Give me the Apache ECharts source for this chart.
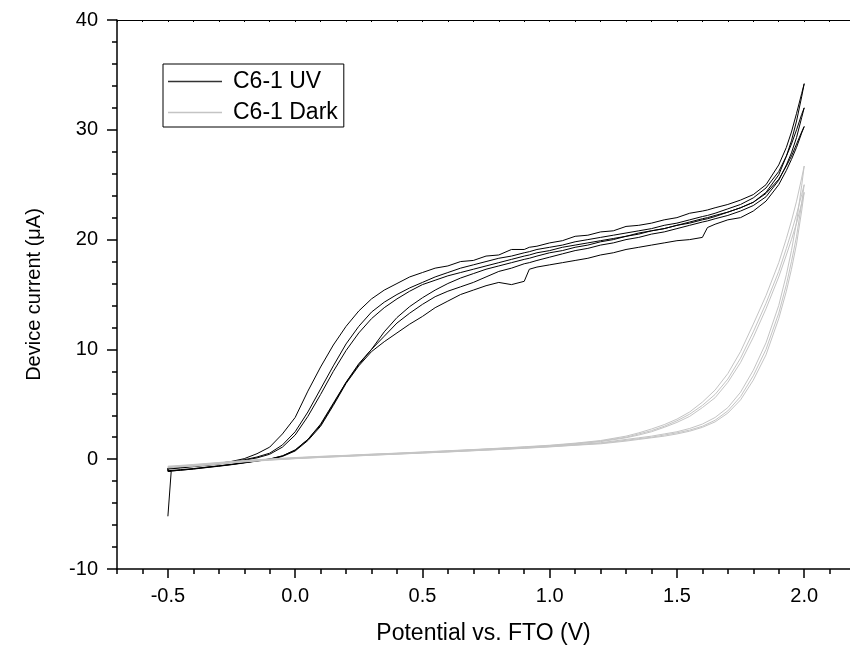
<!DOCTYPE html>
<html><head><meta charset="utf-8">
<script src="https://cdn.jsdelivr.net/npm/echarts@6/dist/echarts.min.js"></script>
<style>html,body{margin:0;padding:0;background:#fff}#c{width:850px;height:650px}</style>
</head><body><div id="c"></div>
<script>
// ---------- tick values ----------
const xMajorTicks = [-0.5, 0, 0.5, 1, 1.5, 2];
const xMinorTicks = [-0.7,-0.6,-0.5,-0.4,-0.3,-0.2,-0.1,0,0.1,0.2,0.3,0.4,0.5,0.6,0.7,0.8,0.9,1,1.1,1.2,1.3,1.4,1.5,1.6,1.7,1.8,1.9,2,2.1];

// ---------- UV series (3 cycles: forward D/E/F, reverse A/B/C) ----------
const uvStartV = [-0.5, -0.487];
const uvStartI = [-5.2, -1.1];
const vUV = [-0.5,-0.45,-0.4,-0.35,-0.3,-0.25,-0.2,-0.15,-0.1,-0.05,
             0,0.05,0.1,0.15,0.2,0.25,0.3,0.35,0.4,0.45,
             0.5,0.55,0.6,0.65,0.7,0.75,0.8,0.85,0.9,0.92,
             0.95,1.0,1.05,1.1,1.15,1.2,1.25,1.3,1.35,1.4,
             1.45,1.5,1.55,1.6,1.62,1.65,1.7,1.75,1.8,1.85,
             1.9,1.93,1.95,1.97,1.99,2.0];
const uvRevA = [-0.8,-0.72,-0.6,-0.5,-0.38,-0.2,0.05,0.5,1.1,2.3,
                3.8,6.2,8.4,10.4,12.1,13.5,14.6,15.4,16.0,16.6,
                17.0,17.4,17.6,18.0,18.1,18.5,18.6,19.1,19.1,19.3,
                19.4,19.7,19.9,20.3,20.4,20.7,20.8,21.2,21.3,21.5,
                21.8,22.0,22.4,22.6,22.7,22.9,23.2,23.6,24.1,25.0,
                26.8,28.4,29.8,31.5,33.3,34.2];
const uvRevB = [-0.85,-0.75,-0.63,-0.52,-0.4,-0.25,-0.05,0.2,0.55,1.3,
                2.5,4.3,6.4,8.5,10.5,12.1,13.4,14.3,15.0,15.6,
                16.1,16.6,17.0,17.4,17.7,18.0,18.3,18.5,18.8,18.9,
                19.1,19.3,19.5,19.8,20.0,20.2,20.4,20.6,20.8,21.0,
                21.3,21.5,21.8,22.1,22.2,22.4,22.8,23.2,23.8,24.7,
                26.2,27.6,28.7,30.0,31.4,32.0];
const uvRevC = [-0.9,-0.8,-0.68,-0.56,-0.44,-0.28,-0.1,0.12,0.45,1.1,
                2.2,3.9,5.9,8.0,9.9,11.5,12.8,13.8,14.6,15.3,
                15.9,16.3,16.7,17.0,17.3,17.6,17.9,18.2,18.5,18.6,
                18.8,19.0,19.3,19.5,19.7,19.9,20.1,20.3,20.6,20.8,
                21.0,21.3,21.5,21.8,21.9,22.1,22.5,22.9,23.4,24.2,
                25.5,26.7,27.6,28.7,29.8,30.3];
const uvFwdD = [-1.1,-1.0,-0.88,-0.75,-0.62,-0.48,-0.32,-0.15,0.0,0.3,
                0.8,1.8,3.1,5.0,7.0,8.6,10.0,11.6,12.9,13.9,
                14.7,15.4,16.0,16.5,16.9,17.3,17.6,17.9,18.2,18.3,
                18.5,18.8,19.0,19.3,19.5,19.8,20.0,20.3,20.5,20.8,
                21.0,21.3,21.6,21.9,22.0,22.2,22.5,22.9,23.4,24.3,
                25.9,27.6,29.0,30.8,33.0,34.2];
const uvFwdE = [-1.05,-0.95,-0.85,-0.72,-0.6,-0.46,-0.3,-0.14,0.02,0.3,
                0.85,1.8,3.2,5.1,7.0,8.7,10.0,11.2,12.4,13.3,
                14.1,14.8,15.3,15.7,16.1,16.6,17.1,17.4,17.8,17.9,
                18.1,18.4,18.7,19.0,19.2,19.5,19.7,20.0,20.2,20.5,
                20.7,21.0,21.3,21.6,21.7,21.9,22.2,22.6,23.1,23.9,
                25.4,26.8,27.9,29.3,31.1,32.0];
const uvFwdF = [-1.1,-1.0,-0.9,-0.77,-0.64,-0.5,-0.34,-0.17,-0.02,0.25,
                0.75,1.7,3.0,4.9,6.9,8.5,9.8,10.7,11.5,12.3,
                13.0,13.8,14.4,15.0,15.4,15.8,16.1,15.9,16.2,17.3,
                17.5,17.7,17.9,18.1,18.3,18.6,18.8,19.1,19.3,19.5,
                19.7,19.9,20.0,20.2,21.1,21.4,21.8,22.0,22.6,23.5,
                25.0,26.3,27.3,28.4,29.7,30.3];

// ---------- Dark series (3 cycles) ----------
const vDark = [-0.5,-0.4,-0.3,-0.2,-0.1,0,0.1,0.2,0.3,0.4,0.5,0.6,0.7,0.8,0.9,1.0,1.1,
               1.2,1.3,1.35,1.4,1.45,1.5,1.55,1.6,1.65,1.7,1.75,1.8,1.85,1.9,1.93,1.95,1.97,1.99,2.0];
const darkFwd1 = [-0.8,-0.6,-0.4,-0.2,-0.05,0.08,0.19,0.29,0.39,0.49,0.59,0.69,0.8,0.91,1.03,1.16,1.32,
                  1.5,1.8,1.95,2.1,2.3,2.5,2.8,3.2,3.8,4.7,6.1,8.1,10.6,14.0,16.8,19.0,21.6,24.9,26.7];
const darkRev1 = [-0.65,-0.48,-0.3,-0.12,0.02,0.15,0.26,0.35,0.46,0.55,0.66,0.77,0.88,1.0,1.13,1.27,1.46,
                  1.7,2.1,2.4,2.75,3.15,3.65,4.3,5.2,6.3,7.8,9.8,12.3,14.9,17.9,20.1,21.7,23.5,25.6,26.7];
const darkFwd2 = [-0.82,-0.62,-0.42,-0.22,-0.07,0.06,0.17,0.27,0.37,0.47,0.57,0.67,0.78,0.89,1.01,1.14,1.29,
                  1.45,1.72,1.87,2.0,2.2,2.4,2.65,3.0,3.55,4.4,5.7,7.6,10.0,13.3,15.9,18.0,20.3,23.3,25.0];
const darkRev2 = [-0.7,-0.52,-0.33,-0.15,0.0,0.12,0.24,0.33,0.44,0.54,0.64,0.75,0.86,0.98,1.1,1.24,1.42,
                  1.65,2.0,2.3,2.6,3.0,3.5,4.1,4.9,5.9,7.3,9.2,11.6,14.2,17.1,19.2,20.7,22.3,24.1,25.0];
const darkFwd3 = [-0.85,-0.64,-0.44,-0.24,-0.09,0.05,0.16,0.26,0.36,0.46,0.56,0.66,0.77,0.88,0.99,1.12,1.27,
                  1.4,1.65,1.8,1.95,2.1,2.3,2.55,2.9,3.4,4.2,5.4,7.2,9.5,12.8,15.3,17.3,19.6,22.6,24.3];
const darkRev3 = [-0.72,-0.55,-0.35,-0.17,-0.02,0.1,0.22,0.32,0.42,0.52,0.62,0.73,0.84,0.96,1.08,1.21,1.38,
                  1.6,1.95,2.2,2.5,2.9,3.35,3.9,4.7,5.6,7.0,8.8,11.1,13.7,16.6,18.6,20.0,21.5,23.3,24.3];

// ---------- build ----------
function pairs(v, a) { return v.map((x, i) => [x, a[i]]); }
function back(v, a) { return pairs(v, a).reverse(); }
const uvData = [].concat(
  pairs(uvStartV, uvStartI),
  pairs(vUV, uvFwdD), back(vUV, uvRevA),
  pairs(vUV, uvFwdE), back(vUV, uvRevB),
  pairs(vUV, uvFwdF), back(vUV, uvRevC));
const darkData = [].concat(
  pairs(vDark, darkFwd1), back(vDark, darkRev1),
  pairs(vDark, darkFwd2), back(vDark, darkRev2),
  pairs(vDark, darkFwd3), back(vDark, darkRev3));

const FONT = 'Arial, "Liberation Sans", sans-serif';
const chart = echarts.init(document.getElementById('c'), null, {renderer: 'canvas'});
chart.setOption({
  animation: false,
  backgroundColor: '#fff',
  grid: {left: 117, right: 0, top: 20, bottom: 80, containLabel: false},
  legend: {
    orient: 'vertical', left: 163, top: 64,
    icon: 'rect', itemWidth: 54, itemHeight: 1.5, itemGap: 6,
    padding: [5, 6, 2, 5],
    borderColor: '#000', borderWidth: 1, borderRadius: 0,
    textStyle: {fontSize: 23, lineHeight: 25, color: '#000', fontFamily: FONT, padding: [0, 0, 0, 6]},
    data: [
      {name: 'C6-1 UV', itemStyle: {color: '#333'}},
      {name: 'C6-1 Dark', itemStyle: {color: '#c4c4c4'}}
    ]
  },
  xAxis: [
    {
      type: 'value', min: -0.7, max: 2.18, position: 'bottom',
      name: 'Potential vs. FTO (V)', nameLocation: 'middle', nameGap: 53,
      nameTextStyle: {fontSize: 23, color: '#000', fontFamily: FONT},
      axisLine: {show: true, onZero: false, lineStyle: {color: '#000', width: 1.5}},
      axisTick: {show: true, length: 9, customValues: xMajorTicks, lineStyle: {color: '#000', width: 1.5}},
      axisLabel: {customValues: xMajorTicks, formatter: v => v.toFixed(1), fontSize: 20, color: '#000', fontFamily: FONT, margin: 17},
      splitLine: {show: false}
    },
    {
      type: 'value', min: -0.7, max: 2.18, position: 'bottom',
      axisLine: {show: false, onZero: false},
      axisTick: {show: true, length: 5, customValues: xMinorTicks, lineStyle: {color: '#000', width: 1.5}},
      axisLabel: {show: false}, splitLine: {show: false}
    },
    {
      type: 'value', min: -0.7, max: 2.18, position: 'top',
      axisLine: {show: true, onZero: false, lineStyle: {color: '#000', width: 1.2}},
      axisTick: {show: true, inside: true, length: 2, customValues: xMinorTicks, lineStyle: {color: '#000', width: 1}},
      axisLabel: {show: false}, splitLine: {show: false}
    }
  ],
  yAxis: {
    type: 'value', min: -10, max: 40, interval: 10,
    name: 'Device current (\u03bcA)', nameLocation: 'middle', nameGap: 73,
    nameTextStyle: {fontSize: 20, color: '#000', fontFamily: FONT},
    axisLine: {show: true, onZero: false, lineStyle: {color: '#000', width: 1.5}},
    axisTick: {show: true, length: 10, lineStyle: {color: '#000', width: 1.5}},
    minorTick: {show: true, splitNumber: 5, length: 5, lineStyle: {color: '#000', width: 1.5}},
    axisLabel: {fontSize: 20, color: '#000', fontFamily: FONT, margin: 19},
    splitLine: {show: false}, minorSplitLine: {show: false}
  },
  series: [
    {name: 'C6-1 UV', type: 'line', data: uvData, xAxisIndex: 0, yAxisIndex: 0,
     symbol: 'none', lineStyle: {color: '#000', width: 1}, itemStyle: {color: '#333'}},
    {name: 'C6-1 Dark', type: 'line', data: darkData, xAxisIndex: 0, yAxisIndex: 0,
     symbol: 'none', lineStyle: {color: '#c4c4c4', width: 1}, itemStyle: {color: '#c4c4c4'}}
  ]
});
</script></body></html>
